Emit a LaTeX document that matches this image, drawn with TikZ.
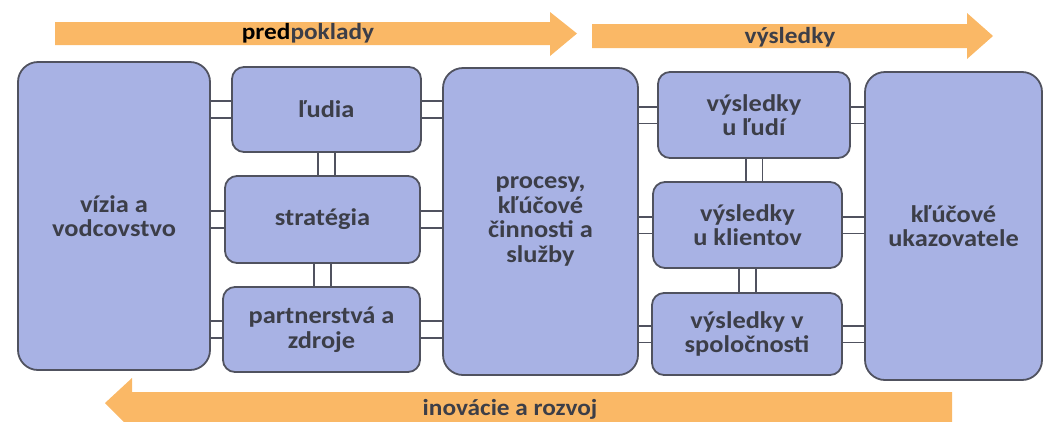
\documentclass[tikz,border=0pt]{standalone}
\usepackage{fontspec}
\setmainfont{Carlito}
\newfontfamily\boxfont{Carlito}[FakeStretch=1.1]
\usetikzlibrary{backgrounds}
\definecolor{boxfill}{RGB}{168,178,228}
\definecolor{boxline}{RGB}{80,82,95}
\definecolor{txt}{RGB}{60,62,72}
\definecolor{arr}{RGB}{250,184,102}
\begin{document}
\begin{tikzpicture}[x=1pt,y=-1pt,
  box/.style={draw=boxline,line width=1.8pt,fill=boxfill,rounded corners=#1,
    align=center,text=txt,font=\boxfont\fontsize{24}{24.5}\selectfont\bfseries,inner sep=0pt},
  box/.default=12pt,
  link/.style={draw=boxline,line width=1.8pt,double=white,double distance=15pt},
  lbl/.style={font=\boxfont\fontsize{23}{25}\selectfont\bfseries,text=txt,inner sep=0pt}]
\useasboundingbox (0,0) rectangle (1048,421);
\clip (0,0) rectangle (1048,421);
% arrows
\fill[arr] (55,22) -- (550,22) -- (550,12) -- (577,33.5) -- (550,56) -- (550,45) -- (55,45) -- cycle;
\fill[arr] (592,24) -- (967,24) -- (967,13) -- (993,36) -- (967,59) -- (967,48) -- (592,48) -- cycle;
\fill[arr] (952,392) -- (132,392) -- (132,378) -- (105,403) -- (132,430) -- (132,425) -- (952,425) -- cycle;
\node[lbl] (t1) at (308,33) {\textcolor{black}{pred}poklady};
\node[lbl] (t2) at (790,37) {výsledky};
\node[lbl] (t3) at (510,409) {inovácie a rozvoj};
% boxes
\node[box=20pt,minimum width=192pt,minimum height=308pt] (L) at (114,216) {vízia a\\vodcovstvo};
\node[box,minimum width=189pt,minimum height=85pt] (P1) at (326.5,109.5) {ľudia};
\node[box,minimum width=195pt,minimum height=87pt] (P2) at (322.5,219.5) {stratégia};
\node[box,minimum width=197pt,minimum height=85pt] (P3) at (321.5,329.5) {partnerstvá a\\zdroje};
\node[box=20pt,minimum width=195pt,minimum height=307pt] (M) at (540.5,221.5) {procesy,\\kľúčové\\činnosti a\\služby};
\node[box,minimum width=192pt,minimum height=86pt] (R1) at (754,115) {výsledky\\u ľudí};
\node[box,minimum width=189pt,minimum height=86pt] (R2) at (747.5,225) {výsledky\\u klientov};
\node[box,minimum width=190pt,minimum height=82pt] (R3) at (747,334) {výsledky v\\spoločnosti};
\node[box=20pt,minimum width=177pt,minimum height=308pt] (K) at (953.5,226) {kľúčové\\ukazovatele};
% connectors
\begin{scope}[on background layer]
\foreach \p in {P1,P2,P3}{
  \draw[link] (L.east |- \p) -- (\p.west);
  \draw[link] (\p.east) -- (M.west |- \p);
}
\foreach \r in {R1,R2,R3}{
  \draw[link] (M.east |- \r) -- (\r.west);
  \draw[link] (\r.east) -- (K.west |- \r);
}
\draw[link] (P1.south) -- (P2.north -| P1.south);
\draw[link] (P2.south) -- (P3.north -| P2.south);
\draw[link] (R1.south) -- (R2.north -| R1.south);
\draw[link] (R2.south) -- (R3.north -| R2.south);
\end{scope}
\end{tikzpicture}
\end{document}
